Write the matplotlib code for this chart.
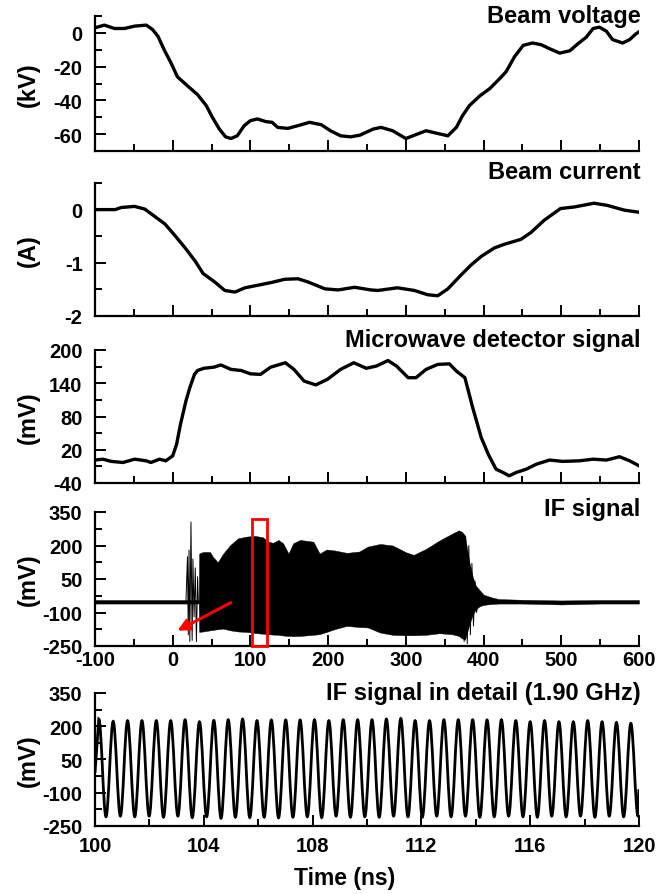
import numpy as np
import matplotlib
matplotlib.use("Agg")
import matplotlib.pyplot as plt
from matplotlib.path import Path
from matplotlib.patches import PathPatch, Rectangle
from matplotlib.ticker import MultipleLocator, FixedLocator

plt.rcParams['font.family'] = ['Liberation Sans', 'DejaVu Sans']
plt.rcParams['font.weight'] = 'bold'
plt.rcParams['axes.unicode_minus'] = False

# beam voltage (kV)
volt_t = [-100, -88, -75, -62, -49, -34, -26, -19, -11, -2, 6, 19, 32, 43, 51, 60, 68, 75, 83, 92,
          100, 109, 120, 128, 135, 148, 161, 176, 191, 203, 216, 229, 241, 258, 268, 283, 300, 309,
          326, 339, 354, 365, 373, 382, 395, 408, 421, 429, 440, 451, 463, 474, 485, 498, 511, 521,
          532, 541, 549, 558, 566, 579, 588, 596, 600]
volt_v = [3, 4.6, 2.6, 2.6, 4, 4.6, 2, -2, -10, -18, -26, -31.4, -36.6, -43, -50, -57, -61.6, -62.6,
          -61, -55, -52, -51, -52.6, -53, -56, -56.6, -55, -53, -54.4, -58, -61, -61.6, -60.6, -57,
          -56, -58, -62.6, -61, -58, -59.4, -61, -56, -49, -43, -37.4, -33, -27, -23, -14, -7.4, -6,
          -7, -9.4, -12, -10.6, -6.6, -2.6, 2.6, 3.4, 1, -4, -6, -4, -0.6, 0.6]

# beam current (A)
curr_t = [-100, -74, -66, -49, -36, -23, -10, 3, 16, 29, 39, 54, 67, 80, 93, 110, 127, 144, 161, 174,
          196, 213, 234, 255, 264, 289, 311, 328, 341, 354, 371, 384, 397, 414, 427, 448, 461, 478,
          499, 517, 542, 559, 581, 600]
curr_v = [0, 0, 0.04, 0.06, 0.01, -0.13, -0.27, -0.49, -0.72, -0.97, -1.2, -1.36, -1.52, -1.55,
          -1.47, -1.42, -1.37, -1.31, -1.3, -1.36, -1.49, -1.51, -1.46, -1.51, -1.52, -1.47, -1.52,
          -1.6, -1.62, -1.49, -1.23, -1.04, -0.88, -0.72, -0.65, -0.56, -0.43, -0.2, 0.02, 0.05,
          0.12, 0.08, -0.01, -0.05]

# microwave detector signal (mV)
det_t = [-100, -90, -79, -64, -49, -34, -28, -17, -9, 0, 5, 10, 17, 22, 28, 32, 40, 53, 62, 75, 88,
         100, 113, 126, 145, 156, 169, 184, 199, 216, 233, 249, 262, 277, 288, 303, 313, 326, 341,
         356, 365, 376, 386, 397, 406, 416, 425, 433, 442, 455, 468, 485, 502, 523, 541, 558, 575,
         588, 600]
det_v = [1.4, 3, -1, -3, 3, 0, -3, 3, 0, 9, 30, 66, 108, 132, 156, 163, 167, 169, 173, 165, 163,
         157, 156, 169, 177, 165, 144, 137, 147, 165, 177, 167, 171, 181, 171, 150, 150, 165, 174,
         175, 162, 150, 96, 42, 12, -15, -21, -27, -21, -15, -6, 1.4, -1, 0, 3, 1.4, 7.4, 0, -9]

# IF signal overview: envelope of the oscillation (mV)
env_t = [-100, -50, 0, 15, 33.5, 34, 39, 48, 52, 58, 65, 74, 84, 95, 106, 116, 123, 129, 136, 142,
         149, 155, 164, 181, 189, 198, 208, 224, 240, 251, 267, 283, 300, 310, 326, 343, 359, 368,
         372, 376, 378, 382, 386, 390, 395, 400, 410, 420, 450, 500, 550, 600]
env_up = [-44, -44, -44, -44, -44, 164, 171, 171, 148, 125, 164, 202, 232, 240, 243, 237, 217, 212,
          225, 210, 164, 210, 225, 217, 164, 182, 178, 167, 173, 195, 207, 200, 170, 158, 185, 222,
          252, 268, 262, 245, 200, 120, 60, 20, 0, -20, -32, -40, -43, -46, -44, -44]
env_lo = [-60, -60, -60, -60, -60, -187, -185, -180, -178, -175, -172, -180, -185, -187, -192, -195,
          -197, -199, -200, -203, -205, -206, -205, -200, -197, -187, -175, -160, -165, -167, -190,
          -200, -202, -202, -200, -193, -197, -205, -215, -222, -200, -150, -110, -85, -72, -66,
          -62, -60, -60, -64, -60, -60]
spike1_t = [17, 19, 20, 21, 22, 23.5, 25, 26, 27.5, 29, 30.5, 32, 33]
spike1_v = [-52, 150, -200, 180, -230, 305, -225, 140, -120, 100, -230, 60, -52]
spike2_t = [372, 375, 377, 379, 381, 383, 385, 387, 389, 391, 393]
spike2_v = [200, -230, 240, -240, 200, -200, 120, -160, 40, -100, -52]

# IF signal in detail: extrema of each cycle (mV)
peak_first, peak_last = 100.14, 119.70
peak_v = [232, 222, 225, 225, 225, 225, 229, 220, 226, 229, 232, 225, 228, 228, 228, 229, 225, 229,
          229, 229, 232, 235, 225, 225, 229, 229, 229, 228, 229, 225, 220, 225, 220, 220, 225, 220,
          217, 213]
trough_v = [-208, -205, -208, -205, -210, -205, -212, -208, -215, -210, -212, -210, -213, -210,
            -208, -212, -205, -210, -208, -210, -205, -208, -210, -205, -208, -205, -210, -208,
            -205, -208, -210, -205, -208, -205, -210, -205, -208, -205]
start_v, end_v = -10, -84

fig = plt.figure(figsize=(6.56, 8.95), dpi=100)
L, W = 95 / 656, 544 / 656
H = 895
boxes = [(17, 152), (184, 317), (351, 484), (513, 647), (694, 827)]
axes = [fig.add_axes([L, 1 - b / H, W, (b - t) / H]) for t, b in boxes]

lw = 2.4
axes[0].plot(volt_t, volt_v, color='black', lw=lw)
axes[1].plot(curr_t, curr_v, color='black', lw=lw)
axes[2].plot(det_t, det_v, color='black', lw=lw)

ax = axes[3]
ax.fill_between(env_t, env_lo, env_up, color='black', lw=0.3)
ax.plot(spike1_t, spike1_v, color='black', lw=0.7)
ax.plot(spike2_t, spike2_v, color='black', lw=0.7)
ax.add_patch(Rectangle((102, -250), 19, 568, fill=False, edgecolor='red', lw=2, clip_on=False, zorder=5))
ax.annotate('', xy=(3, -187), xytext=(78, -50),
            arrowprops=dict(arrowstyle='-|>,head_length=0.7,head_width=0.35', color='red', lw=2.2))

# detail trace: smooth curve through the extrema
ax = axes[4]
pt = np.linspace(peak_first, peak_last, len(peak_v))
half = (pt[1] - pt[0]) / 2
ext_t = [100.0]
ext_v = [start_v]
for tp, vp, vt in zip(pt, peak_v, trough_v):
    ext_t += [tp, tp + half]
    ext_v += [vp, vt]
ext_t.append(120.0)
ext_v.append(end_v)
verts = [(ext_t[0], ext_v[0]), (ext_t[1], ext_v[1])]
codes = [Path.MOVETO, Path.LINETO]
k = 0.36
for i in range(1, len(ext_t) - 1):
    t0, v0, t1, v1 = ext_t[i], ext_v[i], ext_t[i + 1], ext_v[i + 1]
    d = t1 - t0
    verts += [(t0 + k * d, v0), (t1 - k * d, v1), (t1, v1)]
    codes += [Path.CURVE4] * 3
ax.add_patch(PathPatch(Path(verts, codes), fill=False, edgecolor='black', lw=2.0))

titles = ['Beam voltage', 'Beam current', 'Microwave detector signal', 'IF signal',
          'IF signal in detail (1.90 GHz)']
title_y = [1.0, 1.09, 1.077, 1.023, 1.0]
ylabels = ['(kV)', '(A)', '(mV)', '(mV)', '(mV)']
ylims = [(-70, 10), (-2, 0.5), (-40, 200), (-250, 350), (-250, 350)]
ymaj = [[-60, -40, -20, 0], [-2, -1, 0], [-40, 20, 80, 140, 200],
        [-250, -100, 50, 200, 350], [-250, -100, 50, 200, 350]]
ymin = [[-70, -50, -30, -10, 10], [-1.5, -0.5, 0.5], [-10, 50, 110, 170],
        [-175, -25, 125, 275], [-175, -25, 125, 275]]

for i, ax in enumerate(axes):
    for s in ['top', 'right']:
        ax.spines[s].set_visible(False)
    for s in ['left', 'bottom']:
        ax.spines[s].set_linewidth(1.6)
    ax.set_ylim(*ylims[i])
    ax.yaxis.set_major_locator(FixedLocator(ymaj[i]))
    ax.yaxis.set_minor_locator(FixedLocator(ymin[i]))
    if i < 4:
        ax.set_xlim(-100, 600)
        ax.xaxis.set_major_locator(MultipleLocator(100))
        ax.xaxis.set_minor_locator(MultipleLocator(50))
    else:
        ax.set_xlim(100, 120)
        ax.xaxis.set_major_locator(MultipleLocator(4))
        ax.xaxis.set_minor_locator(MultipleLocator(2))
    ax.tick_params(which='both', direction='in', width=1.4, labelsize=14.5, pad=9)
    ax.tick_params(which='major', length=8)
    ax.tick_params(which='minor', length=5)
    ax.tick_params(axis='x', pad=3 if i == 3 else 7)
    if i < 3:
        ax.tick_params(axis='x', labelbottom=False)
    ax.set_ylabel(ylabels[i], fontsize=17, fontweight='bold')
    ax.yaxis.set_label_coords(-0.101, 0.5)
    ax.text(1.003, title_y[i], titles[i], transform=ax.transAxes, ha='right', va='center',
            fontsize=17, fontweight='bold')

axes[4].set_xlabel('Time (ns)', fontsize=16.5, fontweight='bold', labelpad=8)
axes[4].xaxis.set_label_coords(0.458, -0.3)

fig.savefig('out.png', dpi=100)
